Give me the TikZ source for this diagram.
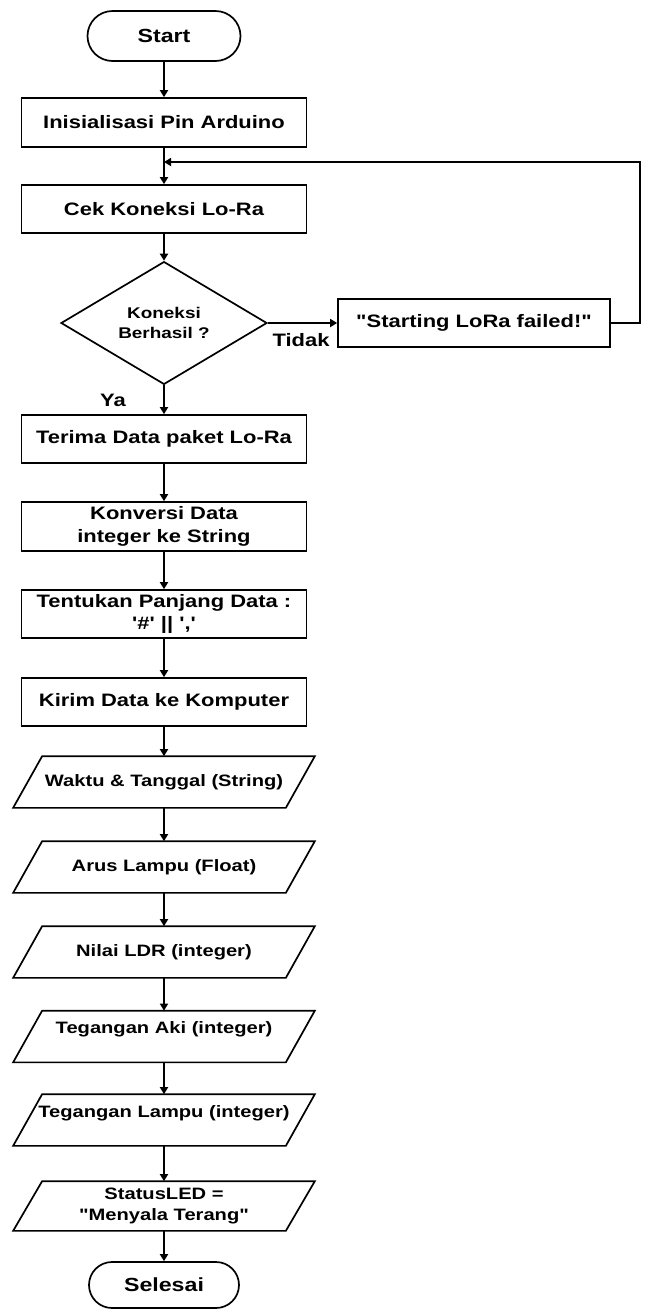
\documentclass[tikz,border=0pt]{standalone}
\usepackage{fontspec}
\setmainfont{Liberation Sans}[FakeStretch=1.22, Ligatures=TeXOff]
\usetikzlibrary{arrows.meta,shapes.geometric,shapes.misc}
\tikzset{
  arr/.style={-{Triangle[length=7pt,width=8pt]}},
  base/.style={inner sep=0pt, align=center, line width=1.7pt},
  procbox/.style={base, draw, rectangle, minimum width=285pt, minimum height=48pt,
    font=\fontsize{18}{22.5}\selectfont\bfseries},
  termbox/.style={base, draw, rounded rectangle, minimum width=153pt, minimum height=50pt,
    font=\fontsize{19}{22}\selectfont\bfseries},
  decbox/.style={base, draw, diamond, minimum width=206pt, minimum height=106pt,
    font=\fontsize{15.5}{20}\selectfont\bfseries},
  iobox/.style={base, rectangle, minimum width=300pt, minimum height=50pt,
    font=\fontsize{16.5}{21}\selectfont\bfseries},
  lbltext/.style={inner sep=0pt, font=\fontsize{18}{20}\selectfont\bfseries}
}
\newcommand\drawpara[1]{\draw[line width=1.7pt]
  ([xshift=29pt]#1.north west) -- (#1.north east) -- ([xshift=-29pt]#1.south east) -- (#1.south west) -- cycle;}
\begin{document}
\begin{tikzpicture}[x=1pt,y=-1pt, line width=1.7pt]
\useasboundingbox (0,0) rectangle (649,1310);
\node[termbox] (start) at (164,36) {Start};
\node[procbox, minimum height=49pt] (init) at (164,122.5) {Inisialisasi Pin Arduino};
\node[procbox] (cek) at (164,209) {Cek Koneksi Lo-Ra};
\node[decbox] (dec) at (164,323) {Koneksi\\Berhasil ?};
\node[procbox, minimum width=272pt] (fail) at (474,323) {"Starting LoRa failed!"};
\node[procbox] (terima) at (164,439) {Terima Data paket Lo-Ra};
\node[procbox, minimum height=49pt] (konv) at (164,526.5) {Konversi Data\\integer ke String};
\node[procbox] (tentu) at (164,614) {Tentukan Panjang Data :\\'\#' || ','};
\node[procbox] (kirim) at (164,702) {Kirim Data ke Komputer};
\node[iobox] (waktu) at (164,782) {Waktu \& Tanggal (String)};
\node[iobox] (arus) at (164,867) {Arus Lampu (Float)};
\node[iobox] (nilai) at (164,952) {Nilai LDR (integer)};
\node[iobox, text height=12pt, text depth=18pt] (aki) at (164,1036.5) {Tegangan Aki (integer)};
\node[iobox, text height=12pt, text depth=18pt] (lampu) at (164,1120) {Tegangan Lampu (integer)};
\node[iobox, minimum height=48pt] (status) at (164,1206) {StatusLED =\\"Menyala Terang"};
\node[termbox, minimum width=150pt, minimum height=46pt] (selesai) at (164,1285) {Selesai};
\drawpara{waktu}
\drawpara{arus}
\drawpara{nilai}
\drawpara{aki}
\drawpara{lampu}
\drawpara{status}
\coordinate (loopR) at (640,162);
\coordinate (loopL) at (164,162);
\draw[arr] (start) -- (init);
\draw[arr] (init) -- (cek);
\draw[arr] (cek) -- (dec);
\draw[arr] (dec.east) -- (fail.west);
\draw[arr] (fail.east) -| (loopR) -- (loopL);
\draw[arr] (dec.south) -- (terima.north);
\draw[arr] (terima) -- (konv);
\draw[arr] (konv) -- (tentu);
\draw[arr] (tentu) -- (kirim);
\draw[arr] (kirim.south) -- (waktu.north);
\draw[arr] (waktu.south) -- (arus.north);
\draw[arr] (arus.south) -- (nilai.north);
\draw[arr] (nilai.south) -- (aki.north);
\draw[arr] (aki.south) -- (lampu.north);
\draw[arr] (lampu.south) -- (status.north);
\draw[arr] (status.south) -- (selesai.north);
\node[lbltext] (tidak) at (301,340) {Tidak};
\node[lbltext] (ya) at (113,400) {Ya};
\end{tikzpicture}
\end{document}
